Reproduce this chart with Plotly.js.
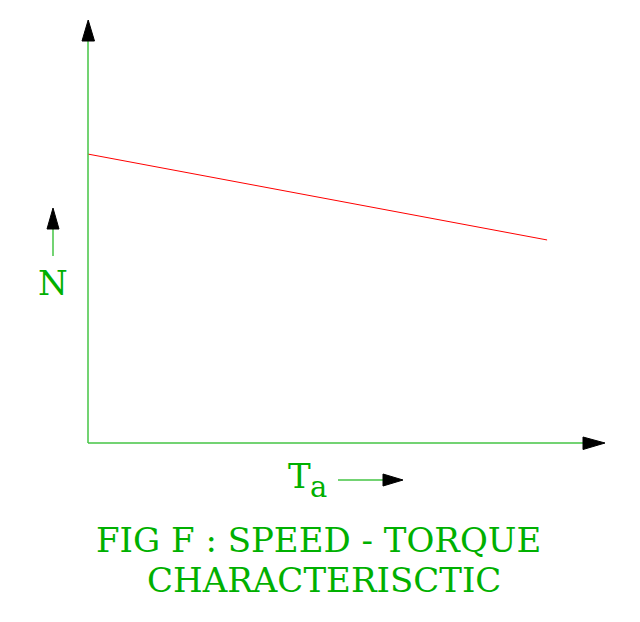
<!DOCTYPE html>
<html>
<head>
<meta charset="utf-8">
<script src="https://cdn.plot.ly/plotly-3.0.1.min.js"></script>
<style>
  html, body { margin: 0; padding: 0; background: #fff; }
  #chart { width: 640px; height: 622px; }
</style>
</head>
<body>
<div id="chart"></div>
<script>
// speed - torque line (arbitrary units, axis range 0..10)
const torque = [0, 8.88];
const speed = [6.83, 4.80];

const titleLines = ['FIG F : SPEED - TORQUE', 'CHARACTERISCTIC'];
const yLabel = 'N';
const xLabel = 'T';
const xLabelSub = 'a';

const GREEN_TEXT = '#00b000';
const GREEN_AXIS = '#44c444';
const FONT = 'DejaVu Serif, Liberation Serif, serif';

// plot area in page pixels
const box = { l: 88, r: 605, t: 20, b: 443 };
const px = (x) => (x - box.l) / (box.r - box.l);
const py = (y) => (box.b - y) / (box.b - box.t);

const tri = (pts) => 'M' + pts.map(p => px(p[0]) + ',' + py(p[1])).join(' L') + ' Z';

const arrowHead = (pts) => ({
    type: 'path', xref: 'paper', yref: 'paper',
    path: tri(pts),
    fillcolor: '#000', line: { color: '#000', width: 1 },
});

const greenLine = (x0, y0, x1, y1) => ({
    type: 'line', xref: 'paper', yref: 'paper',
    x0: px(x0), y0: py(y0), x1: px(x1), y1: py(y1),
    line: { color: GREEN_AXIS, width: 1.5 },
});

const label = (text, x, y, size, xanchor = 'center') => ({
    text, xref: 'paper', yref: 'paper',
    x: px(x), y: py(y), xanchor, yanchor: 'middle',
    borderpad: 0,
    showarrow: false, font: { family: FONT, size, color: GREEN_TEXT },
});

const traces = [{
    x: torque,
    y: speed,
    type: 'scatter',
    mode: 'lines',
    line: { color: '#ff0000', width: 1 },
    hoverinfo: 'skip',
}];

const layout = {
    width: 640,
    height: 622,
    showlegend: false,
    margin: { l: box.l, r: 640 - box.r, t: box.t, b: 622 - box.b },
    paper_bgcolor: '#fff',
    plot_bgcolor: '#fff',
    xaxis: {
        range: [0, 10], showgrid: false, zeroline: false, showticklabels: false,
        ticks: '', showline: false, fixedrange: true,
    },
    yaxis: {
        range: [0, 10], showgrid: false, zeroline: false, showticklabels: false,
        ticks: '', showline: false, fixedrange: true,
    },
    shapes: [
        // axes
        greenLine(88, 443, 88, 30),
        greenLine(88, 443, 595, 443),
        // axis arrow heads
        arrowHead([[82, 41], [94.5, 41], [88.2, 20]]),
        arrowHead([[583, 437], [583, 449.5], [605, 443]]),
        // N arrow
        greenLine(53, 256, 53, 228),
        arrowHead([[47, 229], [59, 229], [53, 208]]),
        // Ta arrow
        greenLine(338, 480, 384, 480),
        arrowHead([[383, 474], [383, 486], [403, 480]]),
    ],
    annotations: [
        label(yLabel, 53, 283, 34),
        label(xLabel, 287, 476, 34, 'left'),
        label(xLabelSub, 309, 487, 29, 'left'),
        label(titleLines[0], 318, 540, 34),
        label(titleLines[1], 324, 580, 34),
    ],
};

Plotly.newPlot('chart', traces, layout, { displayModeBar: false, staticPlot: true });
</script>
</body>
</html>
